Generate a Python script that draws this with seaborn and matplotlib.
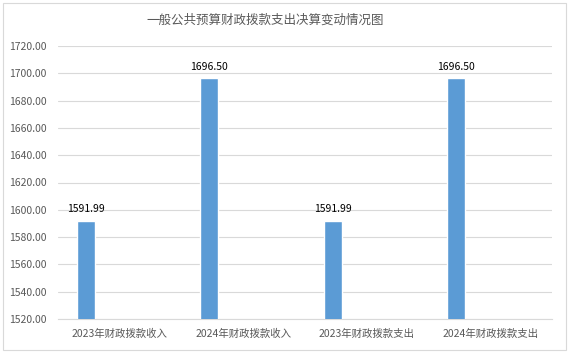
import matplotlib
matplotlib.use("Agg")
import matplotlib.pyplot as plt
import seaborn as sns
import pandas as pd
from matplotlib.patches import Rectangle

categories = ["2023年财政拨款收入", "2024年财政拨款收入", "2023年财政拨款支出", "2024年财政拨款支出"]
values = [1591.99, 1696.50, 1591.99, 1696.50]
value_labels = ["1591.99", "1696.50", "1591.99", "1696.50"]
yticks = [1520, 1540, 1560, 1580, 1600, 1620, 1640, 1660, 1680, 1700, 1720]
title = "一般公共预算财政拨款支出决算变动情况图"

sns.set_style("white")
plt.rcParams['font.family'] = ['Noto Sans CJK SC', 'DejaVu Sans']

df = pd.DataFrame({"cat": categories, "val": values})

fig = plt.figure(figsize=(5.71, 3.55), dpi=100)
ax = fig.add_axes([58/571, 1-319/355, (552-58)/571, (319-46)/355])

sns.barplot(data=df, x="cat", y="val", color="#5b9bd5", width=0.146,
            saturation=1, ax=ax, zorder=3)

offset = -0.275
for p in ax.patches:
    p.set_x(p.get_x() + offset)

ax.set_ylim(1520, 1720)
ax.set_xlim(-0.5, 3.5)
ax.set_yticks(yticks)
ax.set_yticklabels([f"{v:.2f}" for v in yticks])
ax.yaxis.grid(True, color="#d9d9d9", linewidth=0.8, zorder=0)
ax.set_axisbelow(True)
for s in ["top", "right", "left"]:
    ax.spines[s].set_visible(False)
ax.spines["bottom"].set_color("#d9d9d9")
ax.spines["bottom"].set_linewidth(0.8)
ax.tick_params(axis="both", length=0, labelsize=7.5, colors="#595959")
ax.tick_params(axis="y", pad=8)
ax.tick_params(axis="x", pad=7)
ax.set_xlabel("")
ax.set_ylabel("")

for p, lab in zip(ax.patches, value_labels):
    ax.annotate(lab, (p.get_x() + p.get_width()/2, p.get_height()),
                xytext=(0, 4.5), textcoords="offset points",
                ha="center", va="bottom", fontsize=7.5, color="black")

fig.text(265/571, 1-20/355, title, ha="center", va="center", fontsize=9,
         color="#595959")

fig.patches.append(Rectangle((3/571, 1-350/355), (566-3)/571, (350-3)/355,
                             transform=fig.transFigure, fill=False,
                             edgecolor="#d9d9d9", linewidth=0.8))

fig.savefig("out.png", dpi=100)
